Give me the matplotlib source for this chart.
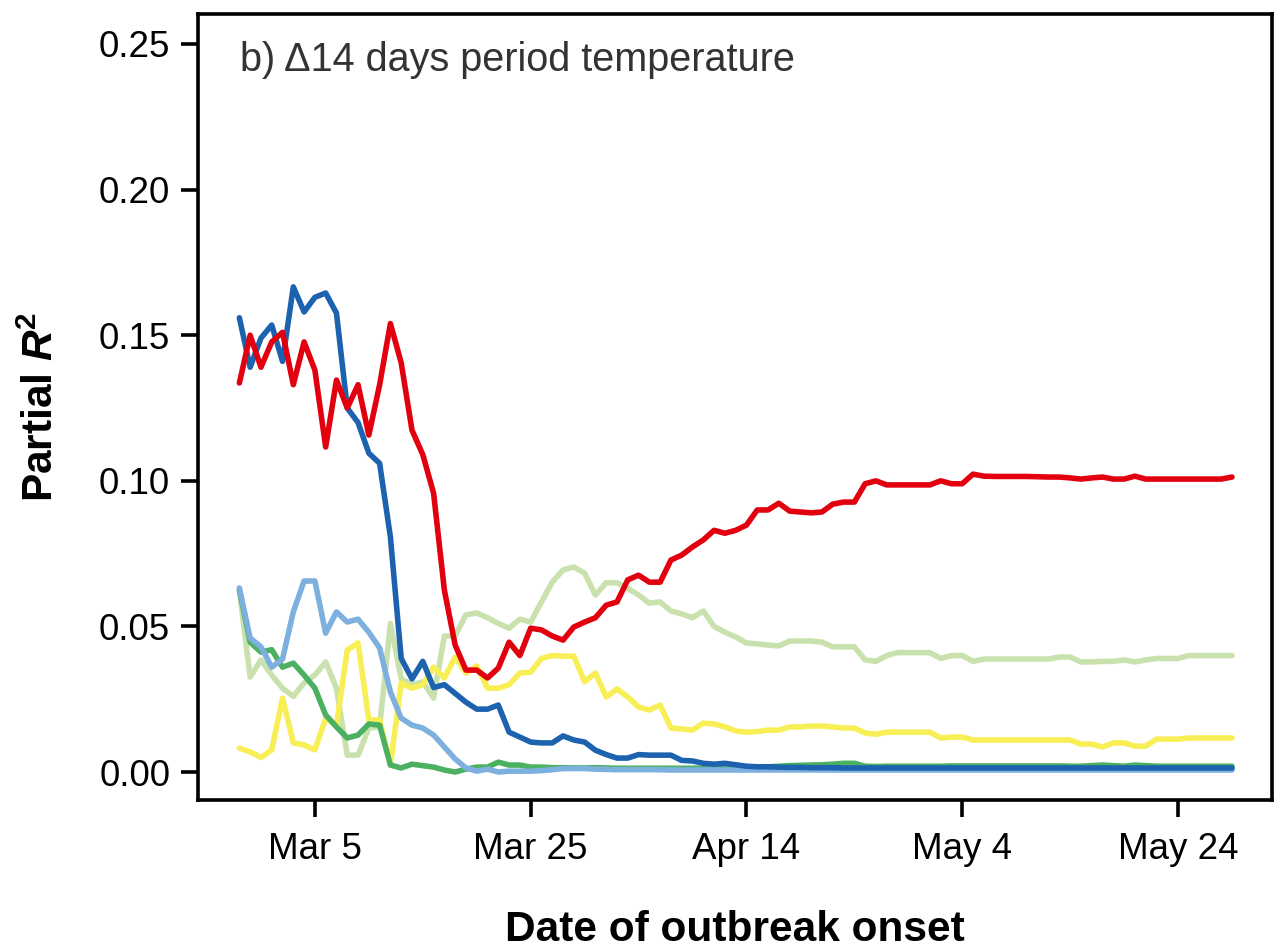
import matplotlib

matplotlib.use("Agg")
import matplotlib.pyplot as plt
import numpy as np

plt.rcParams["font.family"] = "Liberation Sans"
plt.rcParams["mathtext.fontset"] = "custom"
plt.rcParams["mathtext.rm"] = "Liberation Sans"
plt.rcParams["mathtext.bf"] = "Liberation Sans:bold"
plt.rcParams["mathtext.bfit"] = "Liberation Sans:italic:bold"

# daily outbreak-onset dates, Feb 27 .. May 29 2020
dates = np.arange(np.datetime64("2020-02-27"), np.datetime64("2020-05-30"))

red = [
    0.1336, 0.150, 0.139, 0.1477, 0.151, 0.133, 0.1477,
    0.138, 0.1116, 0.1346, 0.125, 0.133, 0.1157, 0.133, 0.154, 0.1405, 0.1174,
    0.109, 0.0958, 0.0625, 0.0436, 0.035, 0.035, 0.0323, 0.0357, 0.0446, 0.040,
    0.0494, 0.0488, 0.0467, 0.0453, 0.0498, 0.0515, 0.053, 0.0573, 0.0584, 0.066,
    0.0676, 0.0652, 0.0652, 0.0728, 0.0745, 0.0773, 0.0797, 0.083, 0.082, 0.083,
    0.0848, 0.090, 0.090, 0.0923, 0.0896, 0.0893, 0.089, 0.0893, 0.092, 0.0927,
    0.0927, 0.099, 0.100, 0.0986, 0.0986, 0.0986, 0.0986, 0.0986, 0.100, 0.099,
    0.099, 0.1023, 0.1016, 0.1015, 0.1015, 0.1015, 0.1015, 0.1014, 0.1013, 0.1013,
    0.1010, 0.1006, 0.101, 0.1013, 0.1006, 0.1006, 0.1016, 0.1006, 0.1006, 0.1006,
    0.1006, 0.1006, 0.1006, 0.1006, 0.1006, 0.1013,
]
blue = [
    0.156, 0.139, 0.149, 0.1535, 0.141, 0.1666, 0.158,
    0.163, 0.1645, 0.1576, 0.125, 0.120, 0.1095, 0.106, 0.0807, 0.039, 0.032,
    0.038, 0.029, 0.030, 0.027, 0.024, 0.0216, 0.0216, 0.023, 0.0137, 0.012,
    0.0103, 0.010, 0.010, 0.0124, 0.011, 0.0103, 0.0075, 0.006, 0.0048, 0.0048,
    0.006, 0.0058, 0.0058, 0.0058, 0.004, 0.0038, 0.003, 0.0027, 0.003, 0.0025,
    0.002, 0.0018, 0.0018, 0.0017, 0.0016, 0.0016, 0.0015, 0.0015, 0.0015, 0.0014,
    0.0014, 0.0014, 0.0014, 0.0014, 0.0014, 0.0014, 0.0014, 0.0014, 0.0014, 0.0014,
    0.0014, 0.0014, 0.0014, 0.0014, 0.0014, 0.0014, 0.0014, 0.0014, 0.0014, 0.0014,
    0.0014, 0.0014, 0.0014, 0.0014, 0.0014, 0.0014, 0.0014, 0.0014, 0.0014, 0.0014,
    0.0014, 0.0014, 0.0014, 0.0014, 0.0014, 0.0014,
]
light_blue = [
    0.0632, 0.046, 0.043, 0.036, 0.0388, 0.055, 0.0656,
    0.0656, 0.0477, 0.055, 0.0515, 0.0525, 0.048, 0.0426, 0.0275, 0.0185, 0.0161,
    0.0151, 0.0127, 0.0086, 0.0045, 0.0014, 0.0003, 0.001, 0.0, 0.0003, 0.0003,
    0.0003, 0.0005, 0.0008, 0.0012, 0.0012, 0.0012, 0.001, 0.0009, 0.0008, 0.0008,
    0.0008, 0.0008, 0.0008, 0.0007, 0.0007, 0.0007, 0.0007, 0.0007, 0.0007, 0.0007,
    0.0007, 0.0007, 0.0007, 0.0007, 0.0007, 0.0007, 0.0007, 0.0007, 0.0007, 0.0007,
    0.0007, 0.0007, 0.0007, 0.0007, 0.0007, 0.0007, 0.0007, 0.0007, 0.0007, 0.0007,
    0.0007, 0.0007, 0.0007, 0.0007, 0.0007, 0.0007, 0.0007, 0.0007, 0.0007, 0.0007,
    0.0007, 0.0007, 0.0007, 0.0007, 0.0007, 0.0007, 0.0007, 0.0007, 0.0007, 0.0007,
    0.0007, 0.0007, 0.0007, 0.0007, 0.0007, 0.0007,
]
green = [
    0.0625, 0.0446, 0.0412, 0.042, 0.036, 0.0374, 0.0333,
    0.0288, 0.0196, 0.0155, 0.0117, 0.0127, 0.0165, 0.0161, 0.0024, 0.0014, 0.0027,
    0.0022, 0.0017, 0.0007, 0.0, 0.001, 0.0017, 0.0017, 0.0034, 0.0024, 0.0024,
    0.0017, 0.0017, 0.0015, 0.0015, 0.0014, 0.0014, 0.0015, 0.0014, 0.0013, 0.0013,
    0.0013, 0.0013, 0.0013, 0.0013, 0.0013, 0.0013, 0.0013, 0.0013, 0.0014, 0.0014,
    0.0015, 0.0016, 0.0018, 0.002, 0.0022, 0.0023, 0.0024, 0.0025, 0.0027, 0.003,
    0.003, 0.002, 0.0019, 0.002, 0.002, 0.002, 0.002, 0.002, 0.002, 0.0021,
    0.0021, 0.0021, 0.0021, 0.0021, 0.0021, 0.0021, 0.0021, 0.0021, 0.0021, 0.0021,
    0.002, 0.002, 0.0022, 0.0024, 0.0022, 0.002, 0.0024, 0.0022, 0.002, 0.002,
    0.002, 0.002, 0.002, 0.002, 0.002, 0.002,
]
light_green = [
    0.0625, 0.0326, 0.0385, 0.0333, 0.0288, 0.026, 0.0306,
    0.0333, 0.0378, 0.0288, 0.0058, 0.0058, 0.0151, 0.0155, 0.051, 0.032, 0.030,
    0.031, 0.0254, 0.0467, 0.0467, 0.054, 0.0546, 0.053, 0.051, 0.0494, 0.0525,
    0.0515, 0.0584, 0.0652, 0.0694, 0.0704, 0.0683, 0.0608, 0.065, 0.065, 0.063,
    0.0608, 0.058, 0.0584, 0.0553, 0.0543, 0.053, 0.0553, 0.050, 0.048, 0.0464,
    0.0443, 0.044, 0.0436, 0.0433, 0.045, 0.045, 0.045, 0.0446, 0.043, 0.043,
    0.043, 0.0385, 0.038, 0.040, 0.041, 0.041, 0.041, 0.041, 0.039, 0.040,
    0.040, 0.038, 0.0388, 0.0388, 0.0388, 0.0388, 0.0388, 0.0388, 0.0388, 0.0395,
    0.0395, 0.0378, 0.0378, 0.038, 0.038, 0.0385, 0.0378, 0.0385, 0.039, 0.039,
    0.039, 0.040, 0.040, 0.040, 0.040, 0.040,
]
yellow = [
    0.0082, 0.0069, 0.005, 0.0076, 0.0254, 0.010, 0.0093,
    0.0076, 0.0185, 0.016, 0.0419, 0.0443, 0.0179, 0.0179, 0.0024, 0.0306, 0.0288,
    0.030, 0.036, 0.0323, 0.0395, 0.034, 0.0364, 0.0288, 0.0288, 0.030, 0.034,
    0.0343, 0.039, 0.040, 0.0398, 0.0398, 0.031, 0.034, 0.0258, 0.0285, 0.0258,
    0.0223, 0.0213, 0.023, 0.0151, 0.0148, 0.0144, 0.0168, 0.0165, 0.0155, 0.0141,
    0.0137, 0.0139, 0.0144, 0.0144, 0.0155, 0.0155, 0.0158, 0.0158, 0.0155, 0.0151,
    0.0151, 0.0134, 0.013, 0.0137, 0.0137, 0.0137, 0.0137, 0.0137, 0.0117, 0.012,
    0.012, 0.011, 0.011, 0.011, 0.011, 0.011, 0.011, 0.011, 0.011, 0.011,
    0.011, 0.0096, 0.0096, 0.0086, 0.010, 0.010, 0.0089, 0.0089, 0.0113, 0.0113,
    0.0113, 0.0117, 0.0117, 0.0117, 0.0117, 0.0117,
]

tick_dates = np.array(["2020-03-05", "2020-03-25", "2020-04-14", "2020-05-04", "2020-05-24"],
                      dtype="datetime64[D]")
tick_labels = ["Mar 5", "Mar 25", "Apr 14", "May 4", "May 24"]
y_ticks = [0.00, 0.05, 0.10, 0.15, 0.20, 0.25]

# draw order: back to front
series = [
    (light_green, "#c9e1ad"),
    (yellow, "#f7ef55"),
    (green, "#4cb061"),
    (light_blue, "#7db0de"),
    (blue, "#1c62ae"),
    (red, "#e2000f"),
]

fig = plt.figure(figsize=(12.82, 9.52), dpi=100)
ax = fig.add_axes([198 / 1282, 152 / 952, 1074 / 1282, 786 / 952])

for values, color in series:
    ax.plot(dates, values, color=color, lw=4.0, solid_joinstyle="round", solid_capstyle="round")

ax.set_xlim(np.datetime64("2020-03-05") - np.timedelta64(260, "h"),
            np.datetime64("2020-03-05") + np.timedelta64(2129, "h"))
ax.set_ylim(-0.0096, 0.2603)
ax.set_xticks(tick_dates)
ax.set_xticklabels(tick_labels)
ax.set_yticks(y_ticks)
ax.set_yticklabels([f"{v:.2f}" for v in y_ticks])

for side in ["left", "right", "top", "bottom"]:
    ax.spines[side].set_linewidth(2.6)
ax.tick_params(axis="both", direction="out", length=12, width=2.6, labelsize=26.5, colors="black")
ax.tick_params(axis="x", pad=11)
ax.tick_params(axis="y", pad=8)

ax.text(0.039, 0.966, "b) Δ14 days period temperature", transform=ax.transAxes,
        ha="left", va="top", fontsize=28.5, color="#333333")

ax.set_xlabel("Date of outbreak onset", fontsize=30.5, fontweight="bold")
ax.xaxis.set_label_coords(0.5, -0.14)
ax.set_ylabel(r"Partial $\mathbfit{R}^{\mathbf{2}}$", fontsize=30.5, fontweight="bold")
ax.yaxis.set_label_coords(-0.127, 0.5)

fig.savefig("out.png", dpi=100)
plt.close(fig)
